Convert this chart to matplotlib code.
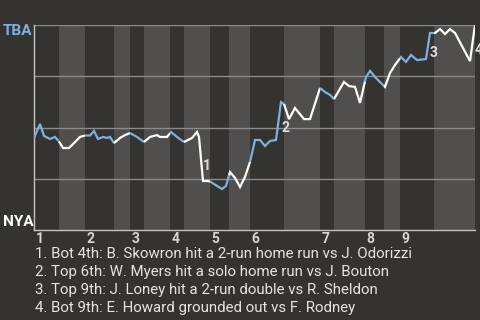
import matplotlib
matplotlib.use('Agg')
import matplotlib.pyplot as plt
import numpy as np
from matplotlib import rcParams
from matplotlib.transforms import blended_transform_factory, offset_copy

rcParams['font.family'] = ['Roboto', 'DejaVu Sans']

# game progress (x) and TBA win probability (y)
progress = [0, 6, 10, 16, 21, 25, 29, 35, 40, 46, 51, 56, 60, 64, 69, 73, 76,
            80, 86, 91, 96, 103, 110, 116, 123, 126, 133, 137, 143, 150, 158,
            163, 165, 169, 174, 177, 183, 188, 192, 196, 201, 206, 211, 216,
            221, 226, 231, 236, 242, 247, 250, 255, 261, 270, 276, 286, 291,
            296, 300, 310, 315, 321, 326, 332, 336, 342, 346, 351, 356, 361,
            367, 372, 377, 383, 392, 396, 401, 406, 411, 416, 421, 436, 441]
tba_wp = [0.449, 0.517, 0.459, 0.444, 0.454, 0.432, 0.400, 0.400, 0.424,
          0.454, 0.461, 0.461, 0.483, 0.444, 0.454, 0.449, 0.454, 0.424,
          0.449, 0.463, 0.473, 0.454, 0.429, 0.454, 0.463, 0.454, 0.454,
          0.478, 0.454, 0.429, 0.449, 0.478, 0.454, 0.239, 0.239, 0.234,
          0.215, 0.200, 0.215, 0.283, 0.254, 0.210, 0.259, 0.332, 0.439,
          0.439, 0.410, 0.434, 0.439, 0.624, 0.615, 0.541, 0.595, 0.541,
          0.541, 0.693, 0.673, 0.659, 0.639, 0.722, 0.702, 0.698, 0.620,
          0.746, 0.776, 0.741, 0.722, 0.698, 0.766, 0.805, 0.844, 0.820,
          0.854, 0.829, 0.834, 0.961, 0.961, 0.980, 0.956, 0.980, 0.961,
          0.824, 1.000]

# half-inning boundaries (top 1, bot 1, top 2, ...)
half_innings = [0, 25, 51, 80, 96, 110, 136, 150, 176, 195, 216, 250, 286,
                300, 331, 350, 366, 400, 441]
innings = ['1', '2', '3', '4', '5', '6', '7', '8', '9']

# key plays
event_x = [169, 247, 396, 441]
event_labels = ['1', '2', '3', '4']
notes = [
    '1. Bot 4th: B. Skowron hit a 2-run home run vs J. Odorizzi',
    '2. Top 6th: W. Myers hit a solo home run vs J. Bouton',
    '3. Top 9th: J. Loney hit a 2-run double vs R. Sheldon',
    '4. Bot 9th: E. Howard grounded out vs F. Rodney',
]

bg = '#353330'
band = '#504f4d'
blue = '#7cb0e2'
white = '#ffffff'
textc = '#e4e4e4'

fig = plt.figure(figsize=(4.8, 3.2), dpi=100, facecolor=bg)
ax = fig.add_axes([34 / 480, 90 / 320, 441 / 480, 205 / 320])
ax.set_facecolor(bg)

x = np.array(progress, dtype=float)
y = np.array(tba_wp)

for i in range(len(half_innings) - 1):
    x0, x1 = half_innings[i], half_innings[i + 1]
    if i % 2 == 1:
        ax.axvspan(x0, x1, color=band, lw=0, zorder=0)
    inside = (x > x0) & (x < x1)
    xs = np.concatenate([[x0], x[inside], [x1]])
    ys = np.interp(xs, x, y)
    ax.plot(xs, ys, color=blue if i % 2 == 0 else white, lw=1.6,
            solid_capstyle='butt', solid_joinstyle='miter', zorder=3)

for g in [0.25, 0.5, 0.75, 1.0]:
    ax.axhline(g, color='#8c8b89', lw=1, zorder=1)

ax.set_xlim(0, half_innings[-1])
ax.set_ylim(0, 1)
ax.set_xticks([])
ax.set_yticks([])
for s in ['top', 'right']:
    ax.spines[s].set_visible(False)
for s in ['left', 'bottom']:
    ax.spines[s].set_color('#c4c4c4')
    ax.spines[s].set_linewidth(1)

# inning numbers
trans = blended_transform_factory(ax.transData, ax.transAxes)
trans = offset_copy(trans, fig=fig, x=1.5, y=-2, units='dots')
for k, lab in enumerate(innings):
    ax.text(half_innings[2 * k], 0, lab, transform=trans, ha='left',
            va='top', fontsize=10, fontweight='bold', color='#d6d6d6')

# key play markers
for ex, lab in zip(event_x, event_labels):
    j = progress.index(ex)
    mid = (tba_wp[j] + tba_wp[j - 1]) / 2
    ax.text(ex, mid, lab, ha='left', va='top', fontsize=10,
            fontweight='bold', color='#dcdcdc', zorder=4, clip_on=False)

fig.text(3 / 480, 1 - 24 / 320, 'TBA', ha='left', va='top', fontsize=11,
         fontweight='bold', color=blue)
fig.text(3 / 480, 1 - 226 / 320, 'NYA', ha='left', va='baseline',
         fontsize=11, fontweight='bold', color=white)

for k, note in enumerate(notes):
    fig.text(35 / 480, 1 - (258 + 18 * k) / 320, note, ha='left',
             va='baseline', fontsize=10.8, color=textc)

fig.savefig('out.png', dpi=100, facecolor=bg)
